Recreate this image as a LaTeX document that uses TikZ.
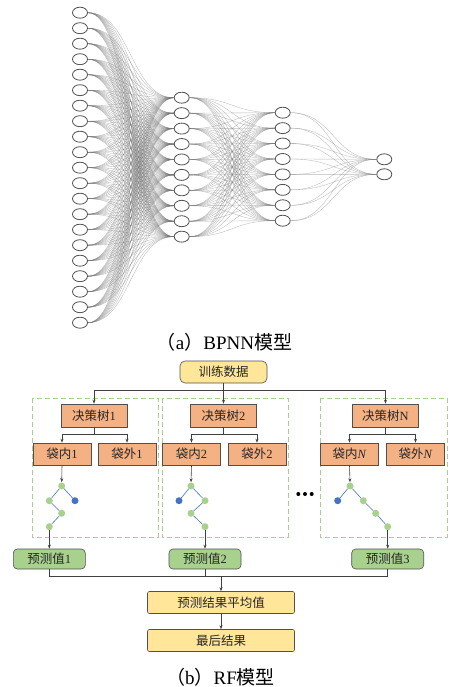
\documentclass[tikz,border=0pt]{standalone}
\usepackage{fontspec}
\setmainfont{Liberation Serif}
\newfontfamily\cjk{Noto Sans CJK SC}
\usetikzlibrary{arrows.meta,shapes.geometric}
\definecolor{boxyellow}{HTML}{FFE699}
\definecolor{boxorange}{HTML}{F4B183}
\definecolor{boxgreen}{HTML}{A9D18E}
\definecolor{treegreen}{HTML}{A9D18E}
\definecolor{treeblue}{HTML}{4472C4}
\definecolor{linegray}{HTML}{404040}
\definecolor{framegray}{HTML}{505050}
\pgfdeclarelayer{bg}
\pgfsetlayers{bg,main}

\tikzset{
  neuron/.style={draw=framegray, line width=0.8pt, fill=white, ellipse, minimum width=15pt, minimum height=11pt, inner sep=0pt},
  synapse/.style={draw=black!55, line width=0.35pt, opacity=0.5},
  box/.style={draw=framegray, line width=0.6pt, inner sep=0pt, font=\fontsize{12.5}{14}\selectfont, text=black!85},
  databox/.style={box, fill=boxyellow, rounded corners=5pt, minimum width=87pt, minimum height=22pt},
  treebox/.style={box, fill=boxorange, minimum width=66pt, minimum height=23pt},
  bagbox/.style={box, fill=boxorange, minimum width=58pt, minimum height=22pt},
  predbox/.style={box, fill=boxgreen, rounded corners=4pt, minimum width=72pt, minimum height=20pt},
  resbox/.style={box, fill=boxyellow, rounded corners=2pt, minimum width=147pt, minimum height=22pt},
  leafg/.style={circle, fill=treegreen, minimum size=7pt, inner sep=0pt},
  leafb/.style={circle, fill=treeblue, minimum size=7pt, inner sep=0pt},
  branch/.style={draw=treeblue, line width=0.6pt},
  wire/.style={draw=linegray, line width=0.6pt},
  arr/.style={wire, -{Stealth[length=4pt,width=3pt]}},
  group/.style={draw=treegreen, line width=1pt, dash pattern=on 5pt off 3pt},
  caption/.style={font=\fontsize{19}{21}\selectfont}
}

\begin{document}
\begin{tikzpicture}[x=1pt,y=-1pt]
\useasboundingbox (0,0) rectangle (452,687);

% ---------- BP neural network ----------
\foreach \i in {1,...,21} \node[neuron] (a\i) at (80,{12.7+15.5*(\i-1)}) {};
\foreach \i in {1,...,10} \node[neuron] (b\i) at (181.7,{97.7+15.44*(\i-1)}) {};
\foreach \i in {1,...,8}  \node[neuron] (c\i) at (282.7,{112.7+15.43*(\i-1)}) {};
\foreach \i in {1,2}      \node[neuron] (d\i) at (384.3,{159.3+15*(\i-1)}) {};

\begin{pgfonlayer}{bg}
\foreach \i in {1,...,21} \foreach \j in {1,...,10}
  \draw[synapse] (a\i.east) .. controls +(43,0) and +(-43,0) .. (b\j.west);
\foreach \i in {1,...,10} \foreach \j in {1,...,8}
  \draw[synapse] (b\i.east) .. controls +(43,0) and +(-43,0) .. (c\j.west);
\foreach \i in {1,...,8} \foreach \j in {1,2}
  \draw[synapse] (c\i.east) .. controls +(43,0) and +(-43,0) .. (d\j.west);
\end{pgfonlayer}

\node[caption] (capa) at (224.5,342) {{\cjk （}a{\cjk ）}BPNN{\cjk 模型}};

% ---------- random forest ----------
\draw[group] (32,398) rectangle (158,537);
\draw[group] (162,398) rectangle (288,537);
\draw[group] (320,398) rectangle (447,537);

\node[databox] (train) at (223.5,372) {\cjk 训练数据};

\node[treebox] (dt1) at (94,415.5) {{\cjk 决策树}1};
\node[treebox] (dt2) at (223.5,415.5) {{\cjk 决策树}2};
\node[treebox] (dtN) at (385.5,415.5) {{\cjk 决策树}N};

\node[bagbox] (in1)  at (62,454)    {{\cjk 袋内}1};
\node[bagbox] (out1) at (127,454)   {{\cjk 袋外}1};
\node[bagbox] (in2)  at (191.5,454) {{\cjk 袋内}2};
\node[bagbox] (out2) at (257,454)   {{\cjk 袋外}2};
\node[bagbox] (inN)  at (349.5,454) {{\cjk 袋内}\textit{N}};
\node[bagbox] (outN) at (415.5,454) {{\cjk 袋外}\textit{N}};

% training data fan-out
\coordinate (bus) at (0,390);
\draw[wire] (dt1.north |- bus) -- (dtN.north |- bus);
\draw[arr] (train.south) -- (dt2.north);
\draw[arr] (dt1.north |- bus) -- (dt1.north);
\draw[arr] (dtN.north |- bus) -- (dtN.north);

% each tree splits into in-bag / out-of-bag samples
\foreach \t/\l/\r in {dt1/in1/out1, dt2/in2/out2, dtN/inN/outN} {
  \coordinate (s\t) at ([yshift=-7pt]\t.south);
  \draw[wire] (\t.south) -- (s\t);
  \draw[wire] (\l.north |- s\t) -- (\r.north |- s\t);
  \draw[arr] (\l.north |- s\t) -- (\l.north);
  \draw[arr] (\r.north |- s\t) -- (\r.north);
}

% tree 1
\node[leafg] (t1r) at (61.7,486) {};
\node[leafg] (t1a) at (49.3,500.7) {};
\node[leafb] (t1b) at (75,500.7) {};
\node[leafg] (t1c) at (61.7,513.3) {};
\node[leafg] (t1d) at (49.3,526.7) {};
\draw[branch] (t1a) -- (t1r) -- (t1b);
\draw[branch] (t1a) -- (t1c) -- (t1d);
% tree 2
\node[leafg] (t2r) at (191,486) {};
\node[leafb] (t2a) at (179,500.7) {};
\node[leafg] (t2b) at (205,500.7) {};
\node[leafg] (t2c) at (191,513.3) {};
\node[leafg] (t2d) at (205,526.7) {};
\draw[branch] (t2a) -- (t2r) -- (t2b);
\draw[branch] (t2b) -- (t2c) -- (t2d);
% tree N
\node[leafg] (t3r) at (350,486) {};
\node[leafb] (t3a) at (337.7,500.7) {};
\node[leafg] (t3b) at (363.3,500.7) {};
\node[leafg] (t3c) at (375.7,513.3) {};
\node[leafg] (t3d) at (387.7,526.7) {};
\draw[branch] (t3a) -- (t3r) -- (t3b) -- (t3c) -- (t3d);

\draw[arr] (in1.south) -- (t1r.north);
\draw[arr] (in2.south) -- (t2r.north);
\draw[arr] (inN.south) -- (t3r.north);

% ellipsis between the groups
\foreach \x in {298.3,305,311.7} \fill[black] (\x,494) circle (2pt);

% predictions
\node[predbox] (p1) at (49.3,559) {{\cjk 预测值}1};
\node[predbox] (p2) at (205,559)  {{\cjk 预测值}2};
\node[predbox] (p3) at (387.7,559) {{\cjk 预测值}3};
\draw[arr] (t1d.south) -- (p1.north);
\draw[arr] (t2d.south) -- (p2.north);
\draw[arr] (t3d.south) -- (p3.north);

\node[resbox] (avg) at (221,602.5) {\cjk 预测结果平均值};
\node[resbox] (final) at (221,640.5) {\cjk 最后结果};

\coordinate (join) at (0,576.7);
\draw[wire] (p1.south) -- (p1.south |- join) -- (p3.south |- join) -- (p3.south);
\draw[wire] (p2.south) -- (p2.south |- join);
\draw[arr] (avg.north |- join) -- (avg.north);
\draw[arr] (avg.south) -- (final.north);

\node[caption] (capb) at (220.5,677) {{\cjk （}b{\cjk ）}RF{\cjk 模型}};
\end{tikzpicture}
\end{document}
